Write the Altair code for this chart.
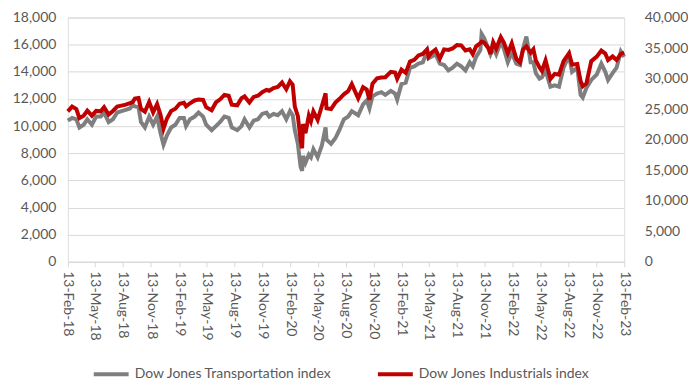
import altair as alt
import pandas as pd

dates = [
    "2018-02-13", "2018-02-27", "2018-03-13", "2018-03-23", "2018-04-06", "2018-04-18",
    "2018-05-03", "2018-05-17", "2018-06-01", "2018-06-12", "2018-06-27", "2018-07-11",
    "2018-07-25", "2018-08-08", "2018-08-22", "2018-09-05", "2018-09-14", "2018-09-21",
    "2018-10-03", "2018-10-11", "2018-10-24", "2018-11-07", "2018-11-20", "2018-12-03",
    "2018-12-14", "2018-12-24", "2019-01-04", "2019-01-18", "2019-02-01", "2019-02-15",
    "2019-03-01", "2019-03-08", "2019-03-21", "2019-04-05", "2019-04-18", "2019-05-03",
    "2019-05-13", "2019-05-31", "2019-06-14", "2019-06-28", "2019-07-12", "2019-07-26",
    "2019-08-05", "2019-08-23", "2019-09-06", "2019-09-16", "2019-10-02", "2019-10-16",
    "2019-10-30", "2019-11-13", "2019-11-27", "2019-12-06", "2019-12-20", "2020-01-03",
    "2020-01-17", "2020-01-31", "2020-02-12", "2020-02-21", "2020-02-28", "2020-03-09",
    "2020-03-18", "2020-03-23", "2020-03-26", "2020-04-03", "2020-04-14", "2020-04-21",
    "2020-04-29", "2020-05-13", "2020-05-27", "2020-06-08", "2020-06-11", "2020-06-26",
    "2020-07-10", "2020-07-23", "2020-08-07", "2020-08-21", "2020-09-02", "2020-09-23",
    "2020-10-09", "2020-10-21", "2020-10-30", "2020-11-09", "2020-11-24", "2020-12-08",
    "2020-12-21", "2021-01-08", "2021-01-22", "2021-01-29", "2021-02-12", "2021-02-26",
    "2021-03-12", "2021-03-26", "2021-04-09", "2021-04-23", "2021-05-07", "2021-05-12",
    "2021-05-21", "2021-06-04", "2021-06-18", "2021-07-02", "2021-07-16", "2021-07-30",
    "2021-08-13", "2021-08-27", "2021-09-10", "2021-09-24", "2021-10-04", "2021-10-15",
    "2021-10-29", "2021-11-02", "2021-11-10", "2021-11-26", "2021-12-01", "2021-12-10",
    "2021-12-20", "2022-01-04", "2022-01-14", "2022-01-27", "2022-02-09", "2022-02-24",
    "2022-03-08", "2022-03-18", "2022-03-29", "2022-04-12", "2022-04-21", "2022-04-29",
    "2022-05-11", "2022-05-19", "2022-05-31", "2022-06-16", "2022-06-30", "2022-07-14",
    "2022-07-29", "2022-08-16", "2022-08-26", "2022-09-12", "2022-09-23", "2022-09-30",
    "2022-10-12", "2022-10-28", "2022-11-15", "2022-11-30", "2022-12-13", "2022-12-22",
    "2023-01-06", "2023-01-19", "2023-02-02", "2023-02-13",
]

transport = [
    10400, 10600, 10500, 9900, 10100, 10500,
    10100, 10700, 10700, 11000, 10300, 10500,
    11000, 11100, 11200, 11300, 11570, 11450,
    11400, 10300, 9900, 10700, 10100, 10700,
    9500, 8640, 9300, 9900, 10100, 10600,
    10600, 10000, 10500, 10700, 11000, 10700,
    10100, 9700, 10000, 10300, 10700, 10600,
    9900, 9700, 10000, 10500, 9900, 10400,
    10500, 10900, 11000, 10700, 10900, 10800,
    11100, 10500, 11100, 10800, 9700, 8700,
    7000, 6700, 7800, 7300, 7900, 7700,
    8300, 7700, 8600, 9900, 9000, 8700,
    9100, 9700, 10500, 10700, 11100, 10800,
    11600, 11900, 11300, 12200, 12400, 12500,
    12300, 12600, 12400, 11950, 13100, 13200,
    14300, 14400, 14600, 14700, 15500, 15000,
    15100, 15300, 14600, 14500, 14100, 14300,
    14600, 14400, 14100, 14700, 14400, 15100,
    15600, 16800, 16500, 15600, 15300, 15800,
    15300, 16200, 15700, 14700, 15400, 14600,
    14500, 15700, 16600, 14700, 14700, 13900,
    13500, 13600, 14100, 12900, 13000, 12900,
    14300, 15200, 14000, 14300, 12300, 12100,
    12800, 13400, 13800, 14600, 14000, 13400,
    13900, 14300, 15500, 15100,
]

industrials = [
    24640, 25410, 25000, 23530, 23930, 24750,
    23930, 24710, 24640, 25320, 24120, 24700,
    25410, 25580, 25730, 25970, 26150, 26740,
    26830, 25050, 24580, 26180, 24470, 25830,
    24100, 21790, 23430, 24700, 25060, 25880,
    26030, 25450, 25960, 26420, 26560, 26500,
    25320, 24820, 26090, 26600, 27330, 27190,
    25720, 25630, 26800, 27080, 26080, 27000,
    27190, 27780, 28160, 28010, 28450, 28630,
    29350, 28260, 29550, 28990, 25410, 23850,
    19900, 18590, 22550, 21050, 23950, 23020,
    24630, 23250, 25550, 27570, 25130, 25020,
    26070, 26650, 27430, 27930, 29100, 26760,
    28590, 28210, 26500, 29160, 30050, 30170,
    30220, 31100, 30990, 29980, 31460, 30930,
    32780, 33070, 33800, 34040, 34780, 33590,
    34210, 34760, 33290, 34790, 34690, 34940,
    35510, 35450, 34610, 34800, 34000, 35290,
    35820, 36050, 35920, 34900, 34020, 35970,
    34930, 36800, 35910, 34160, 35770, 33220,
    32630, 34750, 35290, 34220, 34790, 32980,
    31830, 31250, 32990, 29930, 30780, 30630,
    32850, 34150, 32280, 32380, 29590, 28730,
    29210, 32860, 33590, 34590, 34100, 33030,
    33630, 33040, 34050, 34250,
]

series_names = ["Dow Jones Transportation index", "Dow Jones Industrials index"]
series_colors = ["#7f7f7f", "#c00000"]
left_ticks = list(range(0, 18001, 2000))
right_ticks = list(range(0, 40001, 5000))
tick_dates = [(y, m) for y in range(2018, 2024) for m in (2, 5, 8, 11)]
tick_dates = [t for t in tick_dates if (2018, 2) <= t <= (2023, 2)]

df = pd.DataFrame({"date": dates, series_names[0]: transport, series_names[1]: industrials})
long = df.melt("date", var_name="series", value_name="value")

FONT = "Lato"
LABEL = "#595959"

x_enc = alt.X(
    "date:T",
    scale=alt.Scale(
        type="utc",
        domain=[alt.DateTime(year=2018, month=2, date=13, utc=True),
                alt.DateTime(year=2023, month=2, date=13, utc=True)],
    ),
    axis=alt.Axis(
        title=None,
        values=[alt.DateTime(year=y, month=m, date=13, utc=True) for y, m in tick_dates],
        labelExpr="utcFormat(datum.value, '%d-%b-%y')",
        labelAngle=90,
        labelFont=FONT,
        labelFontSize=14,
        labelColor=LABEL,
        labelPadding=4,
        labelOverlap=False,
        grid=False,
        domainColor="#d9d9d9",
        tickColor="#d9d9d9",
        tickSize=5,
    ),
)

color_enc = alt.Color(
    "series:N",
    scale=alt.Scale(domain=series_names, range=series_colors),
    legend=alt.Legend(
        title=None,
        orient="none",
        legendX=24,
        legendY=338,
        direction="horizontal",
        symbolType="stroke",
        symbolSize=1225,
        symbolStrokeWidth=4,
        labelFont=FONT,
        labelFontSize=14,
        labelColor=LABEL,
        labelLimit=0,
        columnPadding=38,
        labelOffset=4,
    ),
)

left = alt.Chart(long).transform_filter(
    alt.datum.series == series_names[0]
).mark_line(strokeWidth=4).encode(
    x=x_enc,
    y=alt.Y(
        "value:Q",
        scale=alt.Scale(domain=[0, 18000], nice=False),
        axis=alt.Axis(
            title=None, values=left_ticks, format=",d", grid=True, gridColor="#d9d9d9",
            domain=False, ticks=False, labelPadding=12, labelFont=FONT,
            labelFontSize=14, labelColor=LABEL,
        ),
    ),
    color=color_enc,
)

right = alt.Chart(long).transform_filter(
    alt.datum.series == series_names[1]
).mark_line(strokeWidth=4).encode(
    x=x_enc,
    y=alt.Y(
        "value:Q",
        scale=alt.Scale(domain=[0, 40000], nice=False),
        axis=alt.Axis(
            title=None, orient="right", values=right_ticks, format=",d", grid=False,
            domain=False, ticks=False, labelPadding=20, labelFont=FONT,
            labelFontSize=14, labelColor=LABEL,
        ),
    ),
    color=color_enc,
)

chart = alt.layer(left, right).resolve_scale(y="independent").properties(
    width=558, height=245,
    padding={"left": 4, "top": 2, "right": 0, "bottom": 0},
).configure_view(stroke=None).configure(background="white")

chart.save("out.html", embed_options={"renderer": "svg", "actions": False})
